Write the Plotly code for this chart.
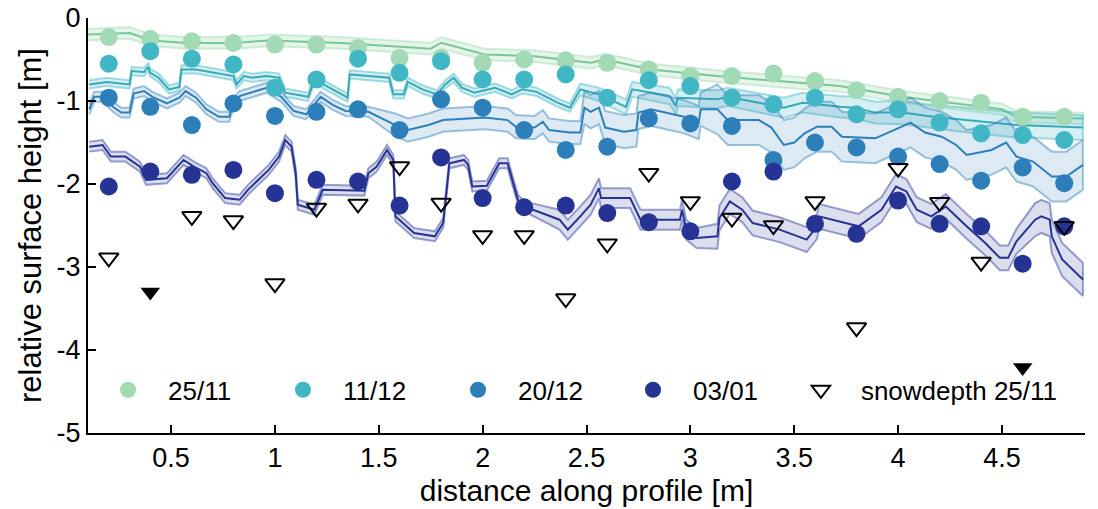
import plotly.graph_objects as go

# ---------------- data ----------------
dist = [0.2, 0.4, 0.6, 0.8, 1.0, 1.2, 1.4, 1.6, 1.8, 2.0, 2.2, 2.4,
        2.6, 2.8, 3.0, 3.2, 3.4, 3.6, 3.8, 4.0, 4.2, 4.4, 4.6, 4.8]

pts_2511 = [-0.23, -0.25, -0.28, -0.30, -0.32, -0.32, -0.36, -0.48, -0.48, -0.54, -0.50, -0.51,
            -0.54, -0.62, -0.70, -0.70, -0.67, -0.76, -0.87, -0.95, -1.00, -1.02, -1.19, -1.19]
pts_1112 = [-0.55, -0.40, -0.49, -0.56, -0.84, -0.74, -0.49, -0.66, -0.52, -0.74, -0.74, -0.68,
            -0.96, -0.75, -0.82, -0.96, -1.04, -0.96, -1.16, -1.10, -1.26, -1.39, -1.41, -1.47]
pts_2012 = [-0.96, -1.07, -1.29, -1.03, -1.18, -1.13, -1.10, -1.35, -0.98, -1.08, -1.35, -1.59,
            -1.55, -1.21, -1.27, -1.30, -1.71, -1.50, -1.56, -1.67, -1.76, -1.96, -1.80, -1.99]
pts_0301 = [-2.03, -1.85, -1.89, -1.83, -2.11, -1.95, -1.97, -2.26, -1.68, -2.17, -2.28, -2.26,
            -2.35, -2.46, -2.57, -1.97, -1.85, -2.48, -2.60, -2.20, -2.48, -2.51, -2.96, -2.51]
snow_2511 = [-2.89, -3.30, -2.39, -2.44, -3.20, -2.29, -2.24, -1.79, -2.23, -2.62, -2.62, -3.38,
             -2.72, -1.87, -2.21, -2.41, -2.50, -2.21, -3.73, -1.81, -2.22, -2.94, -4.21, -2.51]
snow_filled = [False, True, False, False, False, False, False, False, False, False, False, False,
               False, False, False, False, False, False, False, False, False, False, True, False]

# continuous profiles (x, y, band half-width)
prof_2511_x = [0.10, 0.30, 0.41, 0.57, 0.81, 0.97, 1.32, 1.75, 1.80, 2.01, 2.25, 2.52, 2.59, 2.81,
               3.13, 3.45, 3.72, 4.02, 4.33, 4.50, 4.57, 4.89]
prof_2511_y = [-0.20, -0.18, -0.27, -0.30, -0.30, -0.27, -0.30, -0.37, -0.30, -0.44, -0.46, -0.54,
               -0.50, -0.62, -0.70, -0.77, -0.82, -0.95, -1.05, -1.10, -1.19, -1.21]
prof_2511_w = [0.07, 0.07, 0.07, 0.07, 0.07, 0.07, 0.07, 0.07, 0.07, 0.07, 0.07, 0.07,
               0.07, 0.07, 0.07, 0.07, 0.07, 0.07, 0.07, 0.07, 0.07, 0.07]

prof_1112_x = [0.106, 0.19, 0.30, 0.31, 0.37, 0.39, 0.40, 0.44, 0.49, 0.54, 0.55, 0.62, 0.80, 0.815,
               0.85, 0.89, 0.96, 1.02, 1.05, 1.16, 1.19, 1.27, 1.35, 1.36, 1.55, 1.57, 1.62, 1.64,
               1.71, 1.78, 1.82, 1.86, 1.90, 1.96, 2.06, 2.14, 2.19, 2.26, 2.36, 2.42, 2.47, 2.56,
               2.69, 2.72, 2.90, 2.93, 2.94, 3.13, 3.18, 3.45, 3.54, 3.72, 3.79, 3.89, 4.02, 4.17,
               4.33, 4.57, 4.89]
prof_1112_y = [-0.80, -0.77, -0.80, -0.64, -0.65, -0.59, -0.66, -0.72, -0.86, -0.83, -0.62, -0.62,
               -0.70, -0.80, -0.70, -0.72, -0.70, -0.72, -0.90, -0.95, -0.74, -0.85, -0.96, -0.68,
               -0.72, -0.92, -0.92, -0.77, -0.86, -0.92, -0.80, -0.72, -0.84, -0.90, -0.84, -0.92,
               -0.86, -0.89, -1.02, -1.08, -0.86, -0.92, -1.07, -0.86, -0.94, -1.06, -0.96, -0.98,
               -0.95, -1.08, -1.02, -1.07, -1.08, -1.14, -1.14, -1.19, -1.23, -1.29, -1.32]
prof_1112_w = [0.05, 0.05, 0.05, 0.05, 0.05, 0.05, 0.05, 0.05, 0.05, 0.05, 0.05, 0.05, 0.05, 0.05,
               0.05, 0.05, 0.05, 0.05, 0.05, 0.05, 0.05, 0.05, 0.05, 0.05, 0.05, 0.05, 0.05, 0.05,
               0.05, 0.05, 0.05, 0.05, 0.05, 0.05, 0.05, 0.05, 0.05, 0.05, 0.05, 0.05, 0.07, 0.08,
               0.09, 0.09, 0.10, 0.10, 0.10, 0.11, 0.11, 0.12, 0.12, 0.13, 0.13, 0.13, 0.14, 0.14,
               0.15, 0.15, 0.15]

prof_2012_x = [0.106, 0.13, 0.17, 0.22, 0.26, 0.30, 0.32, 0.37, 0.41, 0.48, 0.54, 0.57, 0.62, 0.67,
               0.73, 0.78, 0.80, 0.83, 0.96, 1.03, 1.09, 1.15, 1.22, 1.28, 1.34, 1.45, 1.58, 1.64,
               1.74, 1.81, 2.01, 2.12, 2.16, 2.25, 2.29, 2.32, 2.42, 2.47, 2.49, 2.52, 2.56, 2.59,
               2.68, 2.74, 2.75, 2.81, 2.97, 3.04, 3.05, 3.13, 3.18, 3.33, 3.39, 3.45, 3.50, 3.55,
               3.61, 3.68, 3.73, 3.89, 3.98, 4.06, 4.13, 4.21, 4.28, 4.33, 4.45, 4.52, 4.57, 4.65,
               4.74, 4.81, 4.89]
prof_2012_y = [-1.10, -0.95, -0.95, -1.07, -1.14, -1.14, -0.91, -0.88, -0.95, -1.03, -0.96, -0.88,
               -0.96, -1.10, -1.19, -1.19, -1.02, -0.94, -0.84, -0.95, -1.12, -1.16, -0.95, -1.05,
               -1.12, -1.13, -1.29, -1.35, -1.29, -1.23, -1.20, -1.23, -1.31, -1.32, -1.25, -1.35,
               -1.38, -1.38, -1.08, -1.13, -1.08, -1.32, -1.37, -1.35, -1.14, -1.10, -1.19, -1.26,
               -1.10, -1.10, -1.23, -1.23, -1.32, -1.53, -1.50, -1.39, -1.31, -1.31, -1.43, -1.45,
               -1.35, -1.26, -1.38, -1.43, -1.53, -1.65, -1.59, -1.50, -1.67, -1.73, -1.91, -1.91,
               -1.77]
prof_2012_w = [0.06, 0.06, 0.06, 0.06, 0.06, 0.06, 0.06, 0.06, 0.06, 0.06, 0.06, 0.06, 0.06, 0.06,
               0.06, 0.06, 0.06, 0.06, 0.06, 0.06, 0.06, 0.06, 0.06, 0.06, 0.06, 0.06, 0.14, 0.14,
               0.14, 0.14, 0.14, 0.14, 0.14, 0.14, 0.14, 0.14, 0.14, 0.14, 0.20, 0.20, 0.20, 0.20,
               0.20, 0.20, 0.20, 0.20, 0.20, 0.20, 0.20, 0.30, 0.30, 0.30, 0.30, 0.30, 0.30, 0.30,
               0.30, 0.30, 0.30, 0.30, 0.30, 0.30, 0.30, 0.30, 0.30, 0.30, 0.30, 0.30, 0.30, 0.30,
               0.30, 0.30, 0.30]

prof_0301_x = [0.106, 0.17, 0.21, 0.28, 0.35, 0.38, 0.48, 0.56, 0.61, 0.67, 0.70, 0.76, 0.83, 0.87,
               0.97, 1.02, 1.05, 1.08, 1.10, 1.11, 1.19, 1.23, 1.43, 1.45, 1.49, 1.54, 1.57, 1.58,
               1.67, 1.77, 1.81, 1.84, 1.91, 1.93, 1.95, 2.02, 2.08, 2.12, 2.17, 2.20, 2.37, 2.41,
               2.47, 2.52, 2.56, 2.57, 2.71, 2.76, 2.95, 2.96, 2.98, 3.03, 3.13, 3.14, 3.19, 3.25,
               3.30, 3.43, 3.56, 3.61, 3.62, 3.81, 3.92, 3.99, 4.04, 4.09, 4.16, 4.23, 4.33, 4.42,
               4.49, 4.53, 4.57, 4.66, 4.69, 4.73, 4.74, 4.79, 4.89]
prof_0301_y = [-1.55, -1.53, -1.67, -1.67, -1.79, -1.95, -1.93, -1.71, -1.79, -1.87, -1.99, -2.17,
               -2.19, -2.07, -1.83, -1.67, -1.47, -1.55, -1.87, -2.25, -2.31, -2.07, -2.08, -1.87,
               -1.79, -1.59, -1.71, -2.39, -2.59, -2.63, -2.47, -1.75, -1.71, -1.77, -2.03, -2.02,
               -1.75, -1.75, -2.19, -2.27, -2.43, -2.55, -2.39, -2.25, -2.05, -2.17, -2.17, -2.43,
               -2.43, -2.31, -2.55, -2.65, -2.63, -2.41, -2.21, -2.31, -2.47, -2.55, -2.67, -2.51,
               -2.39, -2.51, -2.31, -2.03, -2.09, -2.31, -2.39, -2.27, -2.51, -2.71, -2.89, -2.89,
               -2.69, -2.43, -2.39, -2.43, -2.63, -2.91, -3.15]
prof_0301_w = [0.06, 0.06, 0.06, 0.06, 0.06, 0.06, 0.06, 0.06, 0.06, 0.06, 0.06, 0.06, 0.06, 0.06,
               0.06, 0.06, 0.06, 0.06, 0.06, 0.06, 0.06, 0.06, 0.06, 0.06, 0.06, 0.06, 0.06, 0.06,
               0.06, 0.06, 0.06, 0.06, 0.06, 0.06, 0.06, 0.06, 0.06, 0.06, 0.06, 0.06, 0.12, 0.12,
               0.12, 0.12, 0.12, 0.12, 0.12, 0.12, 0.12, 0.12, 0.12, 0.12, 0.15, 0.15, 0.15, 0.15,
               0.15, 0.15, 0.15, 0.15, 0.15, 0.15, 0.15, 0.15, 0.15, 0.15, 0.15, 0.15, 0.15, 0.15,
               0.15, 0.15, 0.15, 0.20, 0.20, 0.20, 0.20, 0.20, 0.20]

x_ticks = [0.5, 1, 1.5, 2, 2.5, 3, 3.5, 4, 4.5]
x_tick_labels = ["0.5", "1", "1.5", "2", "2.5", "3", "3.5", "4", "4.5"]
y_ticks = [0, -1, -2, -3, -4, -5]
y_tick_labels = ["0", "-1", "-2", "-3", "-4", "-5"]

# ---------------- styling ----------------
series = [
    ("25/11", (161, 218, 180), (120, 200, 150), prof_2511_x, prof_2511_y, prof_2511_w, pts_2511, 0.28),
    ("11/12", (65, 182, 196), (55, 170, 185), prof_1112_x, prof_1112_y, prof_1112_w, pts_1112, 0.22),
    ("20/12", (44, 127, 184), (44, 127, 184), prof_2012_x, prof_2012_y, prof_2012_w, pts_2012, 0.16),
    ("03/01", (37, 52, 148), (37, 52, 148), prof_0301_x, prof_0301_y, prof_0301_w, pts_0301, 0.16),
]

FONT = "Liberation Sans, Arial, sans-serif"

fig = go.Figure()

for name, dot_c, line_c, px_, py_, pw_, pts, falpha in series:
    up = [y + w for y, w in zip(py_, pw_)]
    lo = [y - w for y, w in zip(py_, pw_)]
    fig.add_trace(go.Scatter(
        x=px_ + px_[::-1], y=up + lo[::-1], mode="lines", fill="toself",
        fillcolor="rgba(%d,%d,%d,%.2f)" % (*dot_c, falpha),
        line=dict(color="rgba(%d,%d,%d,0.45)" % dot_c, width=2),
        showlegend=False, hoverinfo="skip"))
    fig.add_trace(go.Scatter(
        x=px_, y=py_, mode="lines", line=dict(color="rgb(%d,%d,%d)" % line_c, width=2),
        showlegend=False, hoverinfo="skip"))

for name, dot_c, line_c, px_, py_, pw_, pts, falpha in series:
    fig.add_trace(go.Scatter(
        x=dist, y=pts, mode="markers", name=name, legend="legend",
        marker=dict(symbol="circle", size=18, color="rgb(%d,%d,%d)" % dot_c, line=dict(width=0))))

open_x = [d for d, f in zip(dist, snow_filled) if not f]
open_y = [s for s, f in zip(snow_2511, snow_filled) if not f]
fill_x = [d for d, f in zip(dist, snow_filled) if f]
fill_y = [s for s, f in zip(snow_2511, snow_filled) if f]

fig.add_trace(go.Scatter(
    x=open_x, y=open_y, mode="markers", name="snowdepth 25/11", legend="legend2",
    marker=dict(symbol="triangle-down-open", size=17, color="black", line=dict(width=2))))
fig.add_trace(go.Scatter(
    x=fill_x, y=fill_y, mode="markers", showlegend=False,
    marker=dict(symbol="triangle-down", size=17, color="black")))

fig.update_layout(
    width=1098, height=509,
    margin=dict(l=88, r=13, t=18, b=76, autoexpand=False),
    paper_bgcolor="white", plot_bgcolor="white",
    font=dict(family=FONT, size=26, color="black"),
    showlegend=True,
    legend=dict(orientation="h", x=0, y=0.104,
                xanchor="left", yanchor="middle",
                bgcolor="rgba(0,0,0,0)", itemwidth=70, entrywidth=90,
                font=dict(family=FONT, size=26, color="black")),
    legend2=dict(orientation="h", x=0.695, y=0.104,
                 xanchor="left", yanchor="middle",
                 bgcolor="rgba(0,0,0,0)", itemwidth=70,
                 font=dict(family=FONT, size=26, color="black")),
    xaxis=dict(range=[0.1, 4.9], tickvals=x_ticks, ticktext=x_tick_labels,
               showgrid=False, zeroline=False, showline=True, linecolor="black", linewidth=2,
               ticks="inside", ticklen=8, tickwidth=2, tickcolor="black",
               tickfont=dict(family=FONT, size=27),
               title=dict(text="distance along profile [m]", standoff=8,
                          font=dict(family=FONT, size=30))),
    yaxis=dict(range=[-5, 0], tickvals=y_ticks, ticktext=y_tick_labels,
               showgrid=False, zeroline=False, showline=True, linecolor="black", linewidth=2,
               ticks="inside", ticklen=8, tickwidth=2, tickcolor="black",
               tickfont=dict(family=FONT, size=27),
               title=dict(text="relative surface height [m]", standoff=6,
                          font=dict(family=FONT, size=31))),
)

fig.write_html("out.html")
